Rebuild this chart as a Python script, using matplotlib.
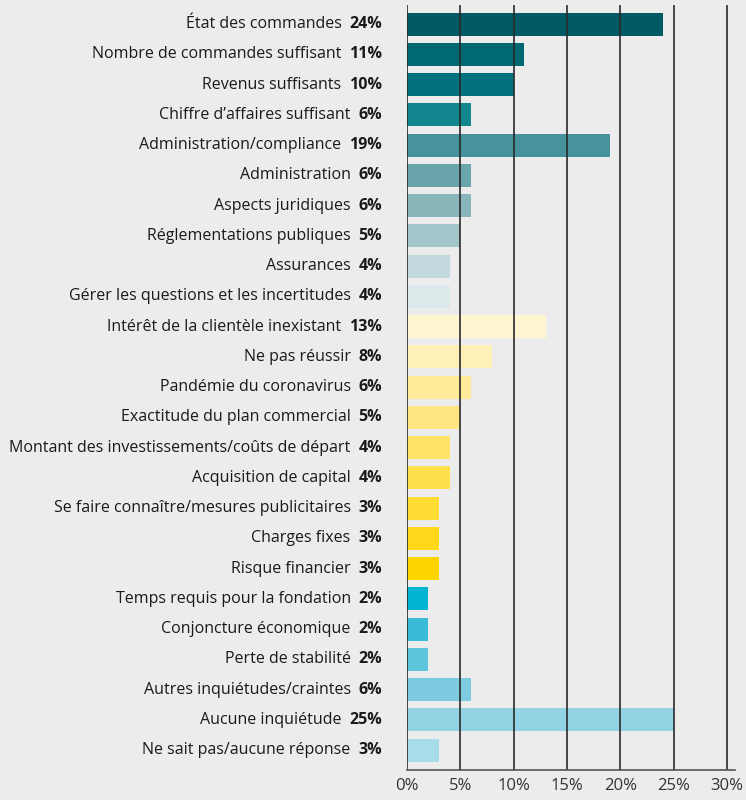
import matplotlib.pyplot as plt
import numpy as np

labels = [
    "État des commandes",
    "Nombre de commandes suffisant",
    "Revenus suffisants",
    "Chiffre d’affaires suffisant",
    "Administration/compliance",
    "Administration",
    "Aspects juridiques",
    "Réglementations publiques",
    "Assurances",
    "Gérer les questions et les incertitudes",
    "Intérêt de la clientèle inexistant",
    "Ne pas réussir",
    "Pandémie du coronavirus",
    "Exactitude du plan commercial",
    "Montant des investissements/coûts de départ",
    "Acquisition de capital",
    "Se faire connaître/mesures publicitaires",
    "Charges fixes",
    "Risque financier",
    "Temps requis pour la fondation",
    "Conjoncture économique",
    "Perte de stabilité",
    "Autres inquiétudes/craintes",
    "Aucune inquiétude",
    "Ne sait pas/aucune réponse",
]
values = [24, 11, 10, 6, 19, 6, 6, 5, 4, 4, 13, 8, 6, 5, 4, 4, 3, 3, 3, 2, 2, 2, 6, 25, 3]
colors = [
    "#025a64", "#006872", "#02737e", "#12868e", "#47939d", "#69a5ab", "#88b6bb",
    "#a2c6c9", "#c1d9dc", "#ddeaeb",
    "#fff5d1", "#fff0b6", "#ffeb9a", "#ffe680", "#ffe366", "#ffdf4d", "#ffdb33",
    "#ffd81a", "#ffd500",
    "#00b4d2", "#3abcd6", "#5ec6dc", "#7ccbe0", "#93d3e3", "#a8dce8",
]
xticks = [0, 5, 10, 15, 20, 25, 30]

plt.rcParams['font.family'] = ['Open Sans', 'DejaVu Sans']
bg = "#ececec"

fig = plt.figure(figsize=(7.46, 8.0), dpi=100, facecolor=bg)
ax = fig.add_axes([407 / 746, 1 - 770 / 800, 328 / 746, 765 / 800])
ax.set_facecolor(bg)

y = np.arange(len(values))
ax.barh(y, values, height=0.76, color=colors, zorder=2)

# vertical gridlines drawn over the bars
for t in xticks:
    ax.axvline(t, color="#2a2a2a", lw=1.2, zorder=3)

ax.set_xlim(0, 30.75)
ax.set_ylim(len(values) - 1 + 0.66, -0.63)
ax.set_xticks(xticks)
ax.set_xticklabels([f"{t}%" for t in xticks], fontsize=12, color="#333333")
ax.tick_params(axis='x', length=0, pad=6)
ax.set_yticks([])
for s in ["top", "right", "left"]:
    ax.spines[s].set_visible(False)
ax.spines["bottom"].set_color("#555555")
ax.spines["bottom"].set_linewidth(1.2)
ax.spines["bottom"].set_zorder(4)

for yi, lab, v in zip(y, labels, values):
    pct = ax.annotate(f"{v}%", xy=(0, yi), xycoords=('axes fraction', 'data'),
                      xytext=(-18, 0), textcoords='offset points',
                      ha='right', va='center', fontsize=11.5, fontweight='bold',
                      color="#1a1a1a")
    ax.annotate(lab, xy=(0, 0.5), xycoords=pct, xytext=(-5.5, 0),
                textcoords='offset points', ha='right', va='center',
                fontsize=11.5, color="#1a1a1a")

plt.savefig('out.png', dpi=100, facecolor=bg)
plt.close()
